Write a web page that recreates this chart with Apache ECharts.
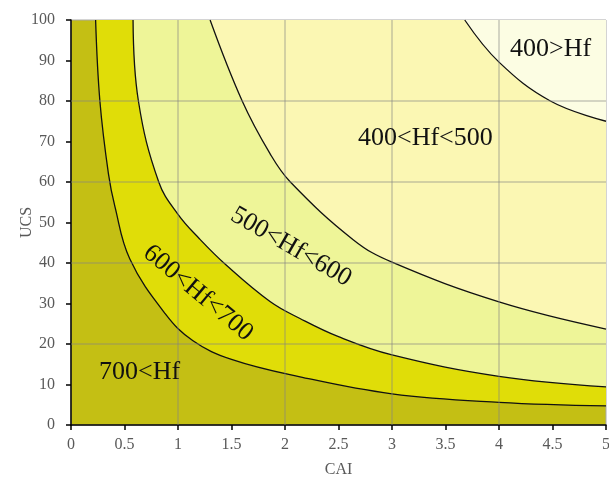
<!DOCTYPE html>
<html>
<head>
<meta charset="utf-8">
<script src="https://cdn.jsdelivr.net/npm/echarts@6/dist/echarts.min.js"></script>
<style>
  html, body { margin: 0; padding: 0; background: #fff; }
  #main { width: 609px; height: 480px; }
</style>
</head>
<body>
<div id="main"></div>
<script>
// boundary curves [CAI, UCS]
const curve700 = [[0.23, 100], [0.27, 80], [0.35, 62], [0.41, 54], [0.55, 41], [0.88, 27.5], [1.14, 20.8], [1.5, 16.2], [2.14, 11.9], [3, 7.7], [4, 5.6], [5, 4.7]];
const curve600 = [[0.58, 100], [0.63, 80], [0.82, 60], [1.0, 52], [1.2, 46], [1.45, 39.5], [1.86, 30.5], [2.14, 26.3], [2.5, 21.8], [3, 17.3], [4, 12], [5, 9.4]];
const curve500 = [[1.30, 100], [1.60, 80], [1.86, 67], [2.05, 60], [2.64, 45.7], [3, 40.2], [4, 30.4], [5, 23.7]];
const curve400 = [[3.68, 100], [4, 89.6], [4.48, 80], [5, 75]];

const gridX = [1, 2, 3, 4];
const gridY = [20, 40, 60, 80];

// zone colours, from the highest Hf (bottom left) to the lowest (top right)
const zoneColors = ["#C4BF14", "#E0DD08", "#EEF598", "#FBF7B3", "#FCFDE3"];

const serif = '"Liberation Serif", "Times New Roman", serif';

const chart = echarts.init(document.getElementById("main"));

// each curve fills the area above it with the colour of the next zone
const curves = [curve700, curve600, curve500, curve400];
const series = curves.map((c, i) => ({
  type: "line",
  data: c,
  smooth: 0.4,
  symbol: "none",
  silent: true,
  lineStyle: { color: "#111", width: 1.3 },
  areaStyle: { origin: "end", color: zoneColors[i + 1], opacity: 1 },
}));

// light grid drawn over the coloured zones
series[series.length - 1].markLine = {
  silent: true,
  symbol: ["none", "none"],
  label: { show: false },
  lineStyle: { color: "rgba(130,130,130,0.45)", type: "solid", width: 1.5 },
  data: gridX.map((v) => ({ xAxis: v })).concat(gridY.map((v) => ({ yAxis: v }))),
};

const labelStyle = (text) => ({
  text: text,
  font: "26px " + serif,
  fill: "#111",
  shadowColor: "rgba(0,0,0,0.25)",
  shadowOffsetX: 1,
  shadowOffsetY: 1,
  shadowBlur: 1,
});

chart.setOption({
  animation: false,
  grid: {
    left: 71,
    right: 3,
    top: 20,
    bottom: 55,
    containLabel: false,
    outerBoundsMode: "none",
    show: true,
    backgroundColor: zoneColors[0],
    borderColor: "#A8A8A8",
    borderWidth: 1,
  },
  xAxis: {
    type: "value",
    min: 0,
    max: 5,
    interval: 0.5,
    name: "CAI",
    nameLocation: "middle",
    nameGap: 37,
    nameMoveOverlap: false,
    nameTextStyle: { fontFamily: serif, fontSize: 16, color: "#595959" },
    axisLine: { lineStyle: { color: "#000", width: 1.5 } },
    axisTick: { length: 5, lineStyle: { color: "#000", width: 1.5 } },
    axisLabel: { margin: 12, fontFamily: serif, fontSize: 16, color: "#595959" },
    splitLine: { show: false },
  },
  yAxis: {
    type: "value",
    min: 0,
    max: 100,
    interval: 10,
    name: "UCS",
    nameLocation: "middle",
    nameGap: 36,
    nameMoveOverlap: false,
    nameTextStyle: { fontFamily: serif, fontSize: 16, color: "#595959" },
    axisLine: { show: true, lineStyle: { color: "#000", width: 1.5 } },
    axisTick: { show: true, length: 5, lineStyle: { color: "#000", width: 1.5 } },
    axisLabel: { margin: 16, fontFamily: serif, fontSize: 16, color: "#595959" },
    splitLine: { show: false },
  },
  series: series,
  graphic: [
    { type: "text", x: 510, y: 49, z: 100, style: Object.assign(labelStyle("400>Hf"), { align: "left", verticalAlign: "middle" }) },
    { type: "text", x: 358, y: 138, z: 100, style: Object.assign(labelStyle("400<Hf<500"), { align: "left", verticalAlign: "middle" }) },
    { type: "text", x: 291, y: 247, z: 100, rotation: -30 * Math.PI / 180, style: Object.assign(labelStyle("500<Hf<600"), { align: "center", verticalAlign: "middle" }) },
    { type: "text", x: 198, y: 293, z: 100, rotation: -40 * Math.PI / 180, style: Object.assign(labelStyle("600<Hf<700"), { align: "center", verticalAlign: "middle" }) },
    { type: "text", x: 99, y: 372, z: 100, style: Object.assign(labelStyle("700<Hf"), { align: "left", verticalAlign: "middle" }) },
  ],
});
</script>
</body>
</html>
